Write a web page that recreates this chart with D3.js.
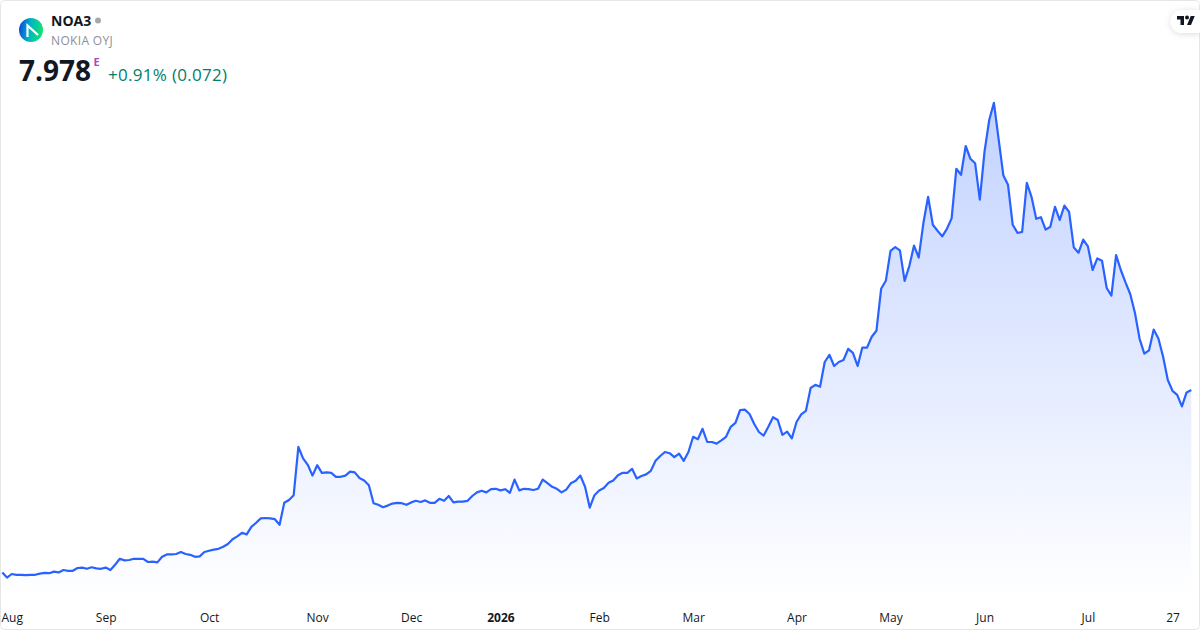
<!DOCTYPE html>
<html><head><meta charset="utf-8">
<script src="https://cdn.jsdelivr.net/npm/d3@7"></script>
<style>
html,body{margin:0;padding:0;background:#fff;overflow:hidden}
svg{display:block;font-family:"Open Sans","Noto Sans",sans-serif}
</style></head><body><svg id="c" width="1200" height="630"></svg>
<script>
const symbol = "NOA3";
const companyName = "NOKIA OYJ";
const lastPrice = "7.978";
const priceChange = "+0.91% (0.072)";
const prices = [3.42,3.29,3.38,3.36,3.36,3.35,3.36,3.36,3.39,3.41,3.40,3.44,3.42,3.48,3.46,3.46,3.53,3.54,3.51,3.55,3.52,3.51,3.54,3.48,3.61,3.76,3.72,3.73,3.76,3.76,3.76,3.68,3.69,3.67,3.81,3.87,3.87,3.88,3.93,3.88,3.86,3.81,3.82,3.93,3.96,3.99,4.01,4.06,4.13,4.25,4.32,4.41,4.37,4.56,4.66,4.77,4.78,4.77,4.75,4.61,5.16,5.23,5.35,6.56,6.27,6.11,5.84,6.10,5.91,5.92,5.91,5.81,5.81,5.84,5.94,5.92,5.78,5.72,5.60,5.15,5.11,5.05,5.09,5.14,5.16,5.15,5.11,5.17,5.21,5.18,5.22,5.16,5.16,5.26,5.21,5.33,5.17,5.19,5.19,5.21,5.33,5.42,5.46,5.42,5.50,5.51,5.47,5.50,5.41,5.74,5.47,5.51,5.50,5.48,5.51,5.74,5.65,5.56,5.51,5.42,5.49,5.65,5.71,5.84,5.56,5.04,5.35,5.47,5.53,5.66,5.72,5.85,5.91,5.91,6.01,5.77,5.83,5.87,5.96,6.21,6.33,6.43,6.40,6.30,6.39,6.21,6.43,6.81,6.75,7.01,6.68,6.68,6.64,6.72,6.81,7.06,7.16,7.48,7.49,7.38,7.13,6.93,6.84,7.06,7.30,7.23,6.86,6.94,6.77,7.18,7.37,7.46,8.03,8.11,8.06,8.68,8.86,8.58,8.68,8.73,9.01,8.91,8.58,9.04,9.04,9.31,9.46,10.51,10.71,11.46,11.55,11.47,10.71,11.08,11.59,11.29,12.16,12.81,12.11,11.96,11.82,12.01,12.27,13.51,13.36,14.08,13.76,13.65,12.74,13.94,14.73,15.16,14.25,13.35,13.11,12.11,11.91,11.93,13.16,12.81,12.26,12.30,11.99,12.06,12.56,12.23,12.59,12.43,11.54,11.41,11.74,11.57,10.98,11.27,11.21,10.53,10.34,11.35,10.98,10.67,10.38,9.91,9.26,8.89,8.97,9.49,9.27,8.81,8.23,7.96,7.86,7.57,7.92,7.978];
const tickLabels = ["Aug","Sep","Oct","Nov","Dec","2026","Feb","Mar","Apr","May","Jun","Jul","27"];
const tickIndex = [2,22,44,67,87,106,127,147,169,189,209,231,249];

const svg = d3.select("#c");
const x = d3.scaleLinear().domain([0, prices.length-1]).range([2.3,1191.3]);
const y = d3.scaleLinear().domain([2.805,17.73]).range([597,0]);

const defs = svg.append("defs");
const g = defs.append("linearGradient").attr("id","fill").attr("gradientUnits","userSpaceOnUse")
  .attr("x1",0).attr("x2",0).attr("y1",y(d3.max(prices))).attr("y2",y.range()[0]);
g.append("stop").attr("offset",0).attr("stop-color","#2962FF").attr("stop-opacity",.28);
g.append("stop").attr("offset",1).attr("stop-color","#2962FF").attr("stop-opacity",0);
const lg2 = defs.append("linearGradient").attr("id","logo2").attr("x1",0).attr("y1",.55).attr("x2",1).attr("y2",.7);
lg2.append("stop").attr("offset",0).attr("stop-color","#0a50e0");
lg2.append("stop").attr("offset",.45).attr("stop-color","#00b8c0");
lg2.append("stop").attr("offset",1).attr("stop-color","#12e868");
const f = defs.append("filter").attr("id","sh").attr("x","-50%").attr("y","-50%").attr("width","200%").attr("height","200%");
f.append("feDropShadow").attr("dx",0).attr("dy",1).attr("stdDeviation",3).attr("flood-color","#000").attr("flood-opacity",.14);

svg.append("rect").attr("x",.5).attr("y",.5).attr("width",1199).attr("height",629).attr("rx",4)
  .attr("fill","#fff").attr("stroke","#e6e6e6");

const idx = prices.map((_,i)=>i);
svg.append("path").attr("fill","url(#fill)")
  .attr("d", d3.area().x(i=>x(i)).y0(y.range()[0]).y1(i=>y(prices[i]))(idx));
svg.append("path").attr("fill","none").attr("stroke","#2962FF").attr("stroke-width",2.2).attr("stroke-linejoin","round")
  .attr("d", d3.line().x(i=>x(i)).y(i=>y(prices[i]))(idx));

const axis = svg.append("g").attr("transform","translate(0,597)")
  .call(d3.axisBottom(x).tickValues(tickIndex).tickSize(0).tickPadding(16).tickFormat((d,i)=>tickLabels[i]));
axis.select(".domain").remove();
axis.selectAll("text").attr("font-size",12).attr("fill","#131722")
  .attr("font-family",'"Open Sans","Noto Sans",sans-serif')
  .attr("font-weight",(d,i)=>tickLabels[i]==="2026"?700:400);

// header
svg.append("circle").attr("cx",31).attr("cy",30).attr("r",12).attr("fill","url(#logo2)");
svg.append("path").attr("d","M27.5 37 V25.5 L38 35").attr("fill","none").attr("stroke","#fff").attr("stroke-width",2.2);
svg.append("text").attr("x",51).attr("y",26).attr("font-size",14).attr("font-weight",700).attr("fill","#131722").text(symbol);
svg.append("circle").attr("cx",98).attr("cy",20.5).attr("r",3).attr("fill","#a8a8a8");
svg.append("text").attr("x",51).attr("y",45).attr("font-size",12).attr("letter-spacing",.35).attr("fill","#8c8f99").text(companyName);
svg.append("text").attr("x",19).attr("y",81).attr("font-size",28).attr("font-weight",700).attr("fill","#131722").text(lastPrice);
svg.append("text").attr("x",93.5).attr("y",65.7).attr("font-size",11).attr("font-weight",700).attr("fill","#ab47bc").text("E");
svg.append("text").attr("x",108).attr("y",81).attr("font-size",17).attr("letter-spacing",.3).attr("fill","#00806c").text(priceChange);

// badge
svg.append("path").attr("d","M1200 10 H1182 A11.5 11.5 0 0 0 1182 33 H1200 Z").attr("fill","#fff").attr("filter","url(#sh)");
const tv = svg.append("g").attr("transform","translate(1177,14) scale(.5)").attr("fill","#131722");
tv.append("path").attr("d","M14 22H7V11H0V4h14v18zM28 22h-8l7.5-18h8L28 22z");
tv.append("circle").attr("cx",20).attr("cy",7).attr("r",4);
</script></body></html>
